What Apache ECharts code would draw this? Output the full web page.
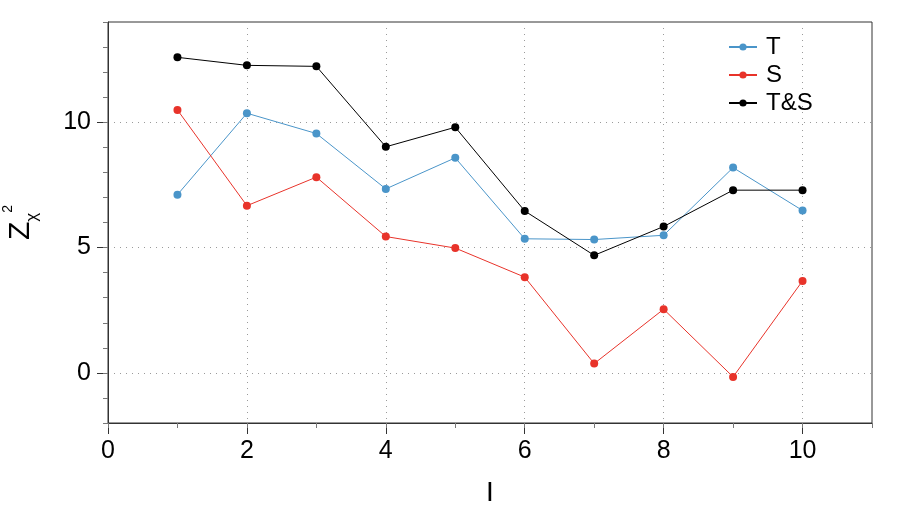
<!DOCTYPE html>
<html>
<head>
<meta charset="utf-8">
<script src="https://cdn.jsdelivr.net/npm/echarts@6/dist/echarts.min.js"></script>
<style>
  html, body { margin: 0; padding: 0; background: #fff; }
  #chart { width: 909px; height: 518px; }
</style>
</head>
<body>
<div id="chart"></div>
<script>
(function () {
  'use strict';

  var levels = [1, 2, 3, 4, 5, 6, 7, 8, 9, 10];
  var tValues = [7.11, 10.36, 9.55, 7.34, 8.58, 5.35, 5.32, 5.49, 8.19, 6.48];
  var sValues = [10.49, 6.67, 7.81, 5.44, 4.98, 3.82, 0.37, 2.54, -0.16, 3.67];
  var tsValues = [12.59, 12.27, 12.23, 9.02, 9.80, 6.46, 4.69, 5.84, 7.29, 7.29];
  var xMajorTicks = [0, 2, 4, 6, 8, 10];
  var yMajorTicks = [0, 5, 10];

  var font = '"Liberation Sans", Arial, sans-serif';
  var dotted = { type: [1, 5], color: '#9a9a9a', width: 1 };

  function pairs(values) {
    var out = [];
    for (var i = 0; i < levels.length; i += 1) {
      out.push([levels[i], values[i]]);
    }
    return out;
  }

  function lineSeries(name, values, color) {
    return {
      name: name,
      type: 'line',
      data: pairs(values),
      symbol: 'circle',
      symbolSize: 8,
      lineStyle: { color: color, width: 1 },
      itemStyle: { color: color },
      emphasis: { disabled: true }
    };
  }

  var chart = echarts.init(document.getElementById('chart'));

  chart.setOption({
    animation: false,
    textStyle: { fontFamily: font },
    grid: {
      left: 108, right: 37, top: 22, bottom: 95,
      outerBoundsMode: 'none',
      show: true, borderColor: '#333', borderWidth: 1
    },
    legend: {
      orient: 'vertical',
      left: 723,
      top: 30,
      itemWidth: 28,
      itemHeight: 9,
      itemGap: 4,
      textStyle: { fontSize: 24, color: '#000', padding: [0, 0, 0, 4] },
      data: [
        { name: 'T', lineStyle: { width: 2 } },
        { name: 'S' },
        { name: 'T&S' }
      ]
    },
    xAxis: [
      {
        type: 'value', min: 0, max: 11, position: 'bottom',
        name: 'I', nameLocation: 'middle', nameGap: 56,
        nameTextStyle: { fontSize: 28, color: '#000' },
        axisLine: { onZero: false, lineStyle: { color: '#333' } },
        axisTick: { customValues: xMajorTicks, length: 11, lineStyle: { color: '#333' } },
        axisLabel: { customValues: xMajorTicks, margin: 16, fontSize: 25, color: '#000' },
        splitLine: { show: true, lineStyle: dotted }
      },
      {
        type: 'value', min: 0, max: 11, interval: 1, position: 'bottom',
        axisLine: { show: false, onZero: false },
        axisTick: { length: 5, lineStyle: { color: '#777' } },
        axisLabel: { show: false },
        splitLine: { show: false }
      }
    ],
    yAxis: [
      {
        type: 'value', min: -2, max: 14, position: 'left',
        name: '{z|Z}{s|χ}{p|2}', nameLocation: 'middle', nameGap: 67, nameRotate: 90,
        nameTextStyle: {
          color: '#000',
          rich: {
            z: { fontSize: 30, lineHeight: 40, color: '#000' },
            s: { fontSize: 17, lineHeight: 17, verticalAlign: 'bottom', color: '#000' },
            p: { fontSize: 14, lineHeight: 36, verticalAlign: 'top', color: '#000' }
          }
        },
        axisLine: { onZero: false, lineStyle: { color: '#333' } },
        axisTick: { customValues: yMajorTicks, length: 11, lineStyle: { color: '#333' } },
        axisLabel: { customValues: yMajorTicks, margin: 17, fontSize: 25, color: '#000' },
        splitLine: { show: true, lineStyle: dotted }
      },
      {
        type: 'value', min: -2, max: 14, interval: 1, position: 'left',
        axisLine: { show: false, onZero: false },
        axisTick: { length: 5, lineStyle: { color: '#777' } },
        axisLabel: { show: false },
        splitLine: { show: false }
      }
    ],
    series: [
      lineSeries('T', tValues, '#4a95c9'),
      lineSeries('S', sValues, '#e8332a'),
      lineSeries('T&S', tsValues, '#000')
    ]
  });

  window.addEventListener('resize', function () {
    chart.resize();
  });
})();
</script>
</body>
</html>
